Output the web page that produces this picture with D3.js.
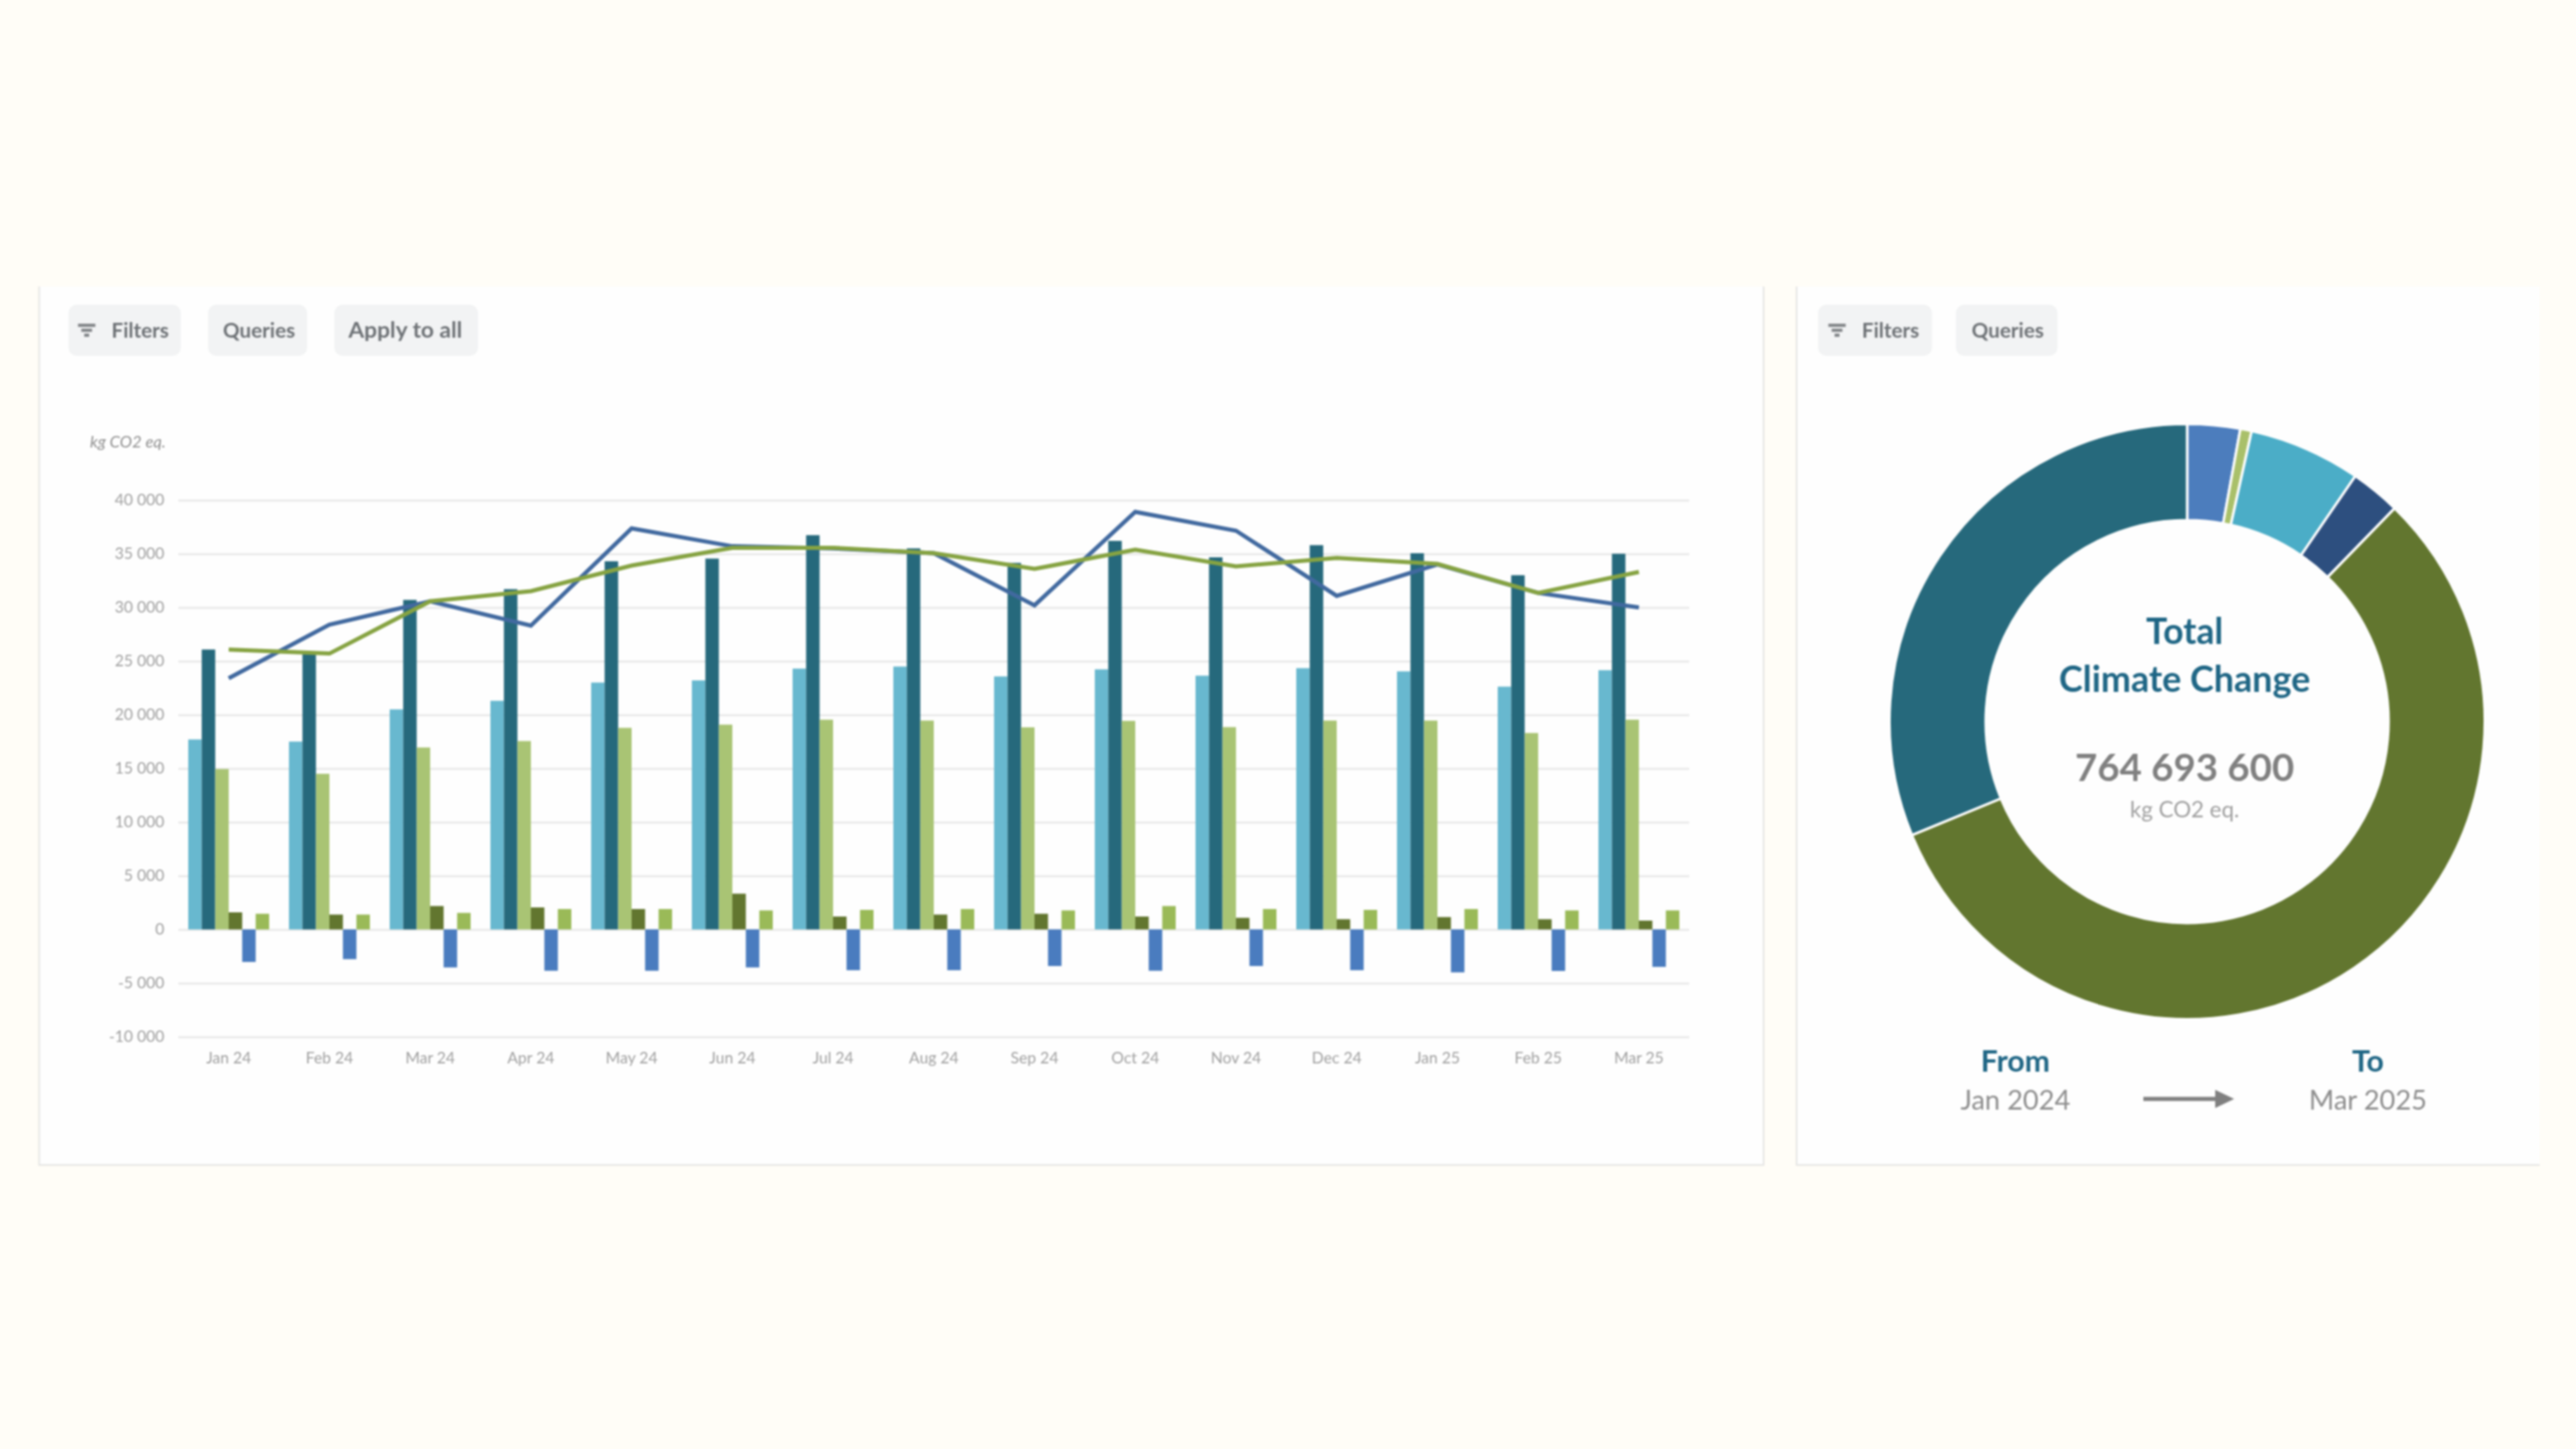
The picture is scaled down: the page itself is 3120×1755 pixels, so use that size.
<!DOCTYPE html>
<html>
<head>
<meta charset="utf-8">
<script src="https://cdn.jsdelivr.net/npm/d3@7"></script>
<style>
  html, body { margin: 0; padding: 0; background: #fffdf7; }
  svg { display: block; filter: blur(0.8px); }
  text { font-family: Lato, "Open Sans", sans-serif; }
</style>
</head>
<body>
<div id="chart"></div>
<script>
// Months on the x axis.
const months = ["Jan 24", "Feb 24", "Mar 24", "Apr 24", "May 24", "Jun 24", "Jul 24", "Aug 24",
  "Sep 24", "Oct 24", "Nov 24", "Dec 24", "Jan 25", "Feb 25", "Mar 25"];

// Bar series, kg CO2 eq. per month.
const barLightBlue = [17700, 17500, 20500, 21300, 23000, 23200, 24300, 24490, 23570, 24230, 23640, 24340, 24040, 22620, 24150];
const barTeal = [26080, 25700, 30700, 31700, 34300, 34550, 36730, 35500, 34150, 36200, 34670, 35800, 35050, 33000, 35000];
const barLightGreen = [14940, 14500, 16950, 17550, 18780, 19080, 19540, 19460, 18830, 19430, 18850, 19460, 19460, 18300, 19540];
const barOlive = [1590, 1385, 2180, 2050, 1900, 3330, 1200, 1385, 1460, 1200, 1080, 950, 1150, 950, 820];
const barBlue = [-3030, -2770, -3540, -3850, -3850, -3540, -3800, -3800, -3410, -3850, -3410, -3800, -4000, -3870, -3490];
const barYellowGreen = [1460, 1385, 1540, 1900, 1900, 1770, 1820, 1900, 1770, 2180, 1900, 1820, 1900, 1770, 1770];

// Line series.
const lineBlue = [23400, 28400, 30570, 28300, 37360, 35700, 35500, 35050, 30200, 38900, 37150, 31080, 34000, 31350, 30000];
const lineGreen = [26080, 25700, 30570, 31520, 33900, 35560, 35560, 35050, 33590, 35380, 33820, 34620, 34050, 31350, 33300];

const yTicks = [-10000, -5000, 0, 5000, 10000, 15000, 20000, 25000, 30000, 35000, 40000];

// Donut slices, clockwise from the top.
const sliceValues = [21900000, 4700000, 46500000, 20800000, 432000000, 238793600];
const sliceColors = ["#4c7dbd", "#a9c06a", "#4badc7", "#2d4f7f", "#62762f", "#26697c"];
const donutTotal = "764 693 600";

const barSeries = [barLightBlue, barTeal, barLightGreen, barOlive, barBlue, barYellowGreen];
const barColors = ["#68b8cf", "#26697c", "#a9c474", "#62762f", "#4a7cbf", "#9aba58"];

const svg = d3.select("#chart").append("svg")
  .attr("width", 3120)
  .attr("height", 1755);

// Panels.
function panel(x0, x1, rightBorder) {
  const top = 347, bottom = 1411;
  svg.append("rect")
    .attr("x", x0).attr("y", top)
    .attr("width", x1 - x0).attr("height", bottom - top)
    .attr("fill", "#fefefe");
  const border = [[x0, top], [x0, bottom], [x1, bottom]];
  if (rightBorder) border.push([x1, top]);
  svg.append("path")
    .attr("d", d3.line()(border))
    .attr("fill", "none")
    .attr("stroke", "#e6e6e4")
    .attr("stroke-width", 2);
}
panel(47.5, 2136, true);
panel(2176, 3076, false);

// Toolbar buttons.
function button(x0, x1, label, textX, size, icon) {
  svg.append("rect")
    .attr("x", x0).attr("y", 369)
    .attr("width", x1 - x0).attr("height", 62)
    .attr("rx", 10)
    .attr("fill", "#f2f3f4");
  svg.append("text")
    .attr("x", textX).attr("y", 409)
    .attr("font-size", size)
    .attr("font-weight", 700)
    .attr("fill", "#6e7276")
    .text(label);
  if (icon) {
    // Funnel made of three shrinking bars.
    [[0, 21], [6, 13], [12, 6]].forEach(([dy, w]) => {
      svg.append("rect")
        .attr("x", icon - w / 2).attr("y", 392 + dy)
        .attr("width", w).attr("height", 4)
        .attr("fill", "#85888b");
    });
  }
}
button(83, 219, "Filters", 135, 25, 105);
button(252, 372, "Queries", 270, 25);
button(405, 579, "Apply to all", 422, 27.5);
button(2202, 2340, "Filters", 2255, 25, 2225);
button(2369, 2492, "Queries", 2388, 25);

// Combo chart scales.
const x = d3.scaleBand().domain(months).range([216, 2046]);
const y = d3.scaleLinear().domain([-10000, 40000]).range([1255.7, 605.7]);
const xInner = d3.scaleBand().domain(d3.range(barSeries.length))
  .range([0, x.bandwidth()])
  .paddingOuter(0.735);

const spaced = d3.formatLocale({ decimal: ".", thousands: " ", grouping: [3], currency: ["", ""], minus: "-" }).format(",");

const yAxis = svg.append("g")
  .attr("transform", `translate(216,0)`)
  .call(d3.axisLeft(y).tickValues(yTicks).tickFormat(spaced).tickSize(-(2046 - 216)).tickPadding(17));
yAxis.select(".domain").remove();
yAxis.selectAll("line").attr("stroke", "#e9e9e9").attr("stroke-width", 2.5);
yAxis.selectAll("text").attr("fill", "#a0a0a0").attr("font-size", 19);

const xAxis = svg.append("g")
  .attr("transform", `translate(0,${y(-10000)})`)
  .call(d3.axisBottom(x).tickSize(0).tickPadding(19));
xAxis.select(".domain").remove();
xAxis.selectAll("text").attr("fill", "#a0a0a0").attr("font-size", 19);

svg.append("text")
  .attr("x", 109).attr("y", 542)
  .attr("font-size", 20)
  .attr("font-style", "italic")
  .attr("fill", "#8f8f8f")
  .text("kg CO2 eq.");

// Bars.
barSeries.forEach((series, s) => {
  svg.append("g")
    .selectAll("rect")
    .data(series)
    .enter()
    .append("rect")
    .attr("x", (d, i) => x(months[i]) + xInner(s))
    .attr("y", d => y(Math.max(d, 0)))
    .attr("width", xInner.bandwidth())
    .attr("height", d => Math.abs(y(d) - y(0)))
    .attr("fill", barColors[s]);
});

// Lines.
const monthLine = d3.line()
  .x((d, i) => x(months[i]) + x.bandwidth() / 2)
  .y(d => y(d));
svg.append("path")
  .attr("d", monthLine(lineBlue))
  .attr("fill", "none")
  .attr("stroke", "#41699f")
  .attr("stroke-width", 5);
svg.append("path")
  .attr("d", monthLine(lineGreen))
  .attr("fill", "none")
  .attr("stroke", "#86a342")
  .attr("stroke-width", 5);

// Donut.
const donutX = 2649, donutY = 874;
const pie = d3.pie().sort(null);
const arc = d3.arc().innerRadius(244).outerRadius(360.5);
svg.append("g")
  .attr("transform", `translate(${donutX},${donutY})`)
  .selectAll("path")
  .data(pie(sliceValues))
  .enter()
  .append("path")
  .attr("d", arc)
  .attr("fill", (d, i) => sliceColors[i])
  .attr("stroke", "#fefefe")
  .attr("stroke-width", 3);

// Donut centre and date range captions.
function caption(txt, cx, cy, size, weight, color) {
  svg.append("text")
    .attr("x", cx).attr("y", cy)
    .attr("text-anchor", "middle")
    .attr("dominant-baseline", "central")
    .attr("font-size", size)
    .attr("font-weight", weight)
    .attr("fill", color)
    .text(txt);
}
caption("Total", donutX - 3, 763, 43, 700, "#1f6685");
caption("Climate Change", donutX - 3, 821, 43.5, 700, "#1f6685");
caption(donutTotal, donutX - 3, 928, 46.5, 700, "#808080");
caption("kg CO2 eq.", donutX - 3, 979, 27, 400, "#a0a0a0");
caption("From", 2441, 1284, 36.5, 700, "#1f6685");
caption("To", 2868, 1284, 36.5, 700, "#1f6685");
caption("Jan 2024", 2441, 1331, 33, 400, "#8e8e8e");
caption("Mar 2025", 2868, 1331, 33, 400, "#8e8e8e");

// Arrow between the dates.
svg.append("line")
  .attr("x1", 2596).attr("y1", 1331)
  .attr("x2", 2686).attr("y2", 1331)
  .attr("stroke", "#808080")
  .attr("stroke-width", 5);
svg.append("path")
  .attr("d", d3.line()([[2683, 1320], [2706, 1331], [2683, 1342]]))
  .attr("fill", "#808080");
</script>
</body>
</html>
